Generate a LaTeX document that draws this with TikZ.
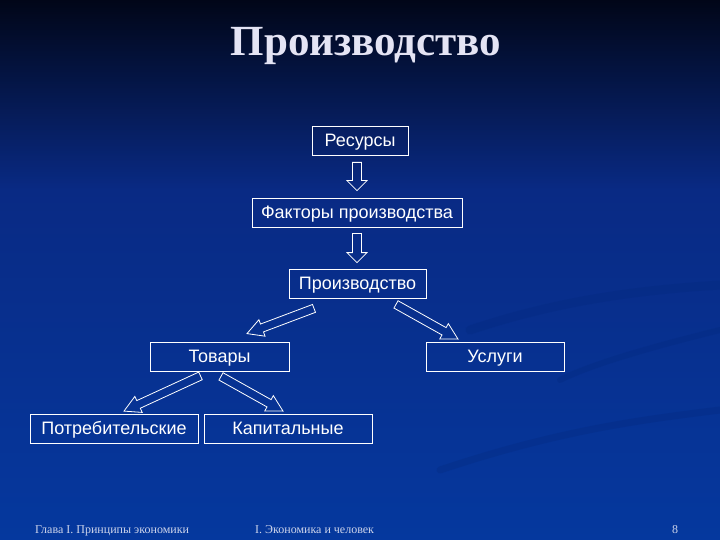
\documentclass[tikz,border=0pt]{standalone}
\usepackage{fontspec}
\setmainfont{Liberation Sans}
\newfontfamily\titlefont{Liberation Serif}
\usetikzlibrary{calc}
\definecolor{bgtop}{RGB}{1,6,24}
\definecolor{bgmid}{RGB}{9,42,132}
\definecolor{bgbot}{RGB}{5,56,158}
\definecolor{swoosh}{RGB}{3,40,125}
\definecolor{titlecol}{RGB}{228,228,244}
\definecolor{footcol}{RGB}{205,212,235}
\tikzset{
  box/.style={draw=white, line width=0.8pt, text=white, minimum height=29pt,
    inner sep=0pt, text height=12.9pt, text depth=0pt, font=\fontsize{18}{21}\selectfont},
  blockarr/.style={draw=white, line width=0.8pt, line join=miter},
  foot/.style={text=footcol, inner sep=0pt, anchor=base west, font=\titlefont\fontsize{12}{14}\selectfont},
}
\newcommand\blockarrow[5]{%
  \coordinate (tmpH) at ($(#2)!#5!(#1)$);
  \draw[blockarr] ($(#1)!#3!90:(#2)$) -- ($(tmpH)!#3!90:(#2)$) -- ($(tmpH)!#4!90:(#2)$)
    -- (#2) -- ($(tmpH)!#4!-90:(#2)$) -- ($(tmpH)!#3!-90:(#2)$) -- ($(#1)!#3!-90:(#2)$) -- cycle;
}
\begin{document}
\begin{tikzpicture}[x=1pt,y=-1pt]
\useasboundingbox (0,0) rectangle (720,540);
% background
\fill[top color=bgtop, bottom color=bgmid] (0,0) rectangle (720,190);
\fill[top color=bgmid, bottom color=bgbot] (0,190) rectangle (720,540);
% faint swooshes
\begin{scope}[swoosh, opacity=0.3, line cap=round]
  \draw[line width=9pt] (470,330) .. controls (560,300) and (640,290) .. (720,285);
  \draw[line width=7pt] (440,470) .. controls (560,430) and (640,420) .. (720,410);
  \draw[line width=6pt] (560,380) .. controls (600,360) and (680,340) .. (720,330);
\end{scope}
% title
\node[text=titlecol, anchor=base, font=\titlefont\bfseries\fontsize{43}{48}\selectfont] (title) at (366,56) {Производство};
% boxes
\node[box, minimum width=96pt]  (res)  at (360,140.5) {Ресурсы};
\node[box, minimum width=210pt] (fak)  at (357,212.5) {Факторы производства};
\node[box, minimum width=137pt] (pro)  at (357.5,283.5) {Производство};
\node[box, minimum width=139pt] (tov)  at (219.5,356.5) {Товары};
\node[box, minimum width=138pt] (usl)  at (495,356.5) {Услуги};
\node[box, minimum width=168pt] (potr) at (114,428.5) {Потребительские};
\node[box, minimum width=168pt] (kap)  at (288,428.5) {Капитальные};
% arrow end points
\coordinate (a1s) at ($(res.south)+(-3,7)$);
\coordinate (a1e) at ($(fak.north)+(0,-7)$);
\coordinate (a2s) at ($(fak.south)+(0,6)$);
\coordinate (a2e) at ($(pro.north)+(-0.5,-6)$);
\coordinate (a3s) at ($(pro.south)+(-43.5,10)$);
\coordinate (a3e) at ($(tov.north)+(27.5,-8)$);
\coordinate (a4s) at ($(pro.south)+(38.5,6)$);
\coordinate (a4e) at ($(usl.north)+(-37,-2.5)$);
\coordinate (a5s) at ($(tov.south)+(-19,4.5)$);
\coordinate (a5e) at ($(potr.north)+(10,-2.5)$);
\coordinate (a6s) at ($(tov.south)+(1.5,5)$);
\coordinate (a6e) at ($(kap.north)+(-5,-2.5)$);
\blockarrow{a1s}{a1e}{4.5pt}{10pt}{10pt}
\blockarrow{a2s}{a2e}{4.5pt}{10pt}{10pt}
\blockarrow{a3s}{a3e}{4.2pt}{8.8pt}{16pt}
\blockarrow{a4s}{a4e}{4.2pt}{8.8pt}{16pt}
\blockarrow{a5s}{a5e}{4.2pt}{8.8pt}{16pt}
\blockarrow{a6s}{a6e}{4.2pt}{8.8pt}{16pt}
% footer
\node[foot] (f1) at (35,533) {Глава I. Принципы экономики};
\node[foot] (f2) at (255,533) {I. Экономика и человек};
\node[foot] (f3) at (672,533) {8};
\end{tikzpicture}
\end{document}
